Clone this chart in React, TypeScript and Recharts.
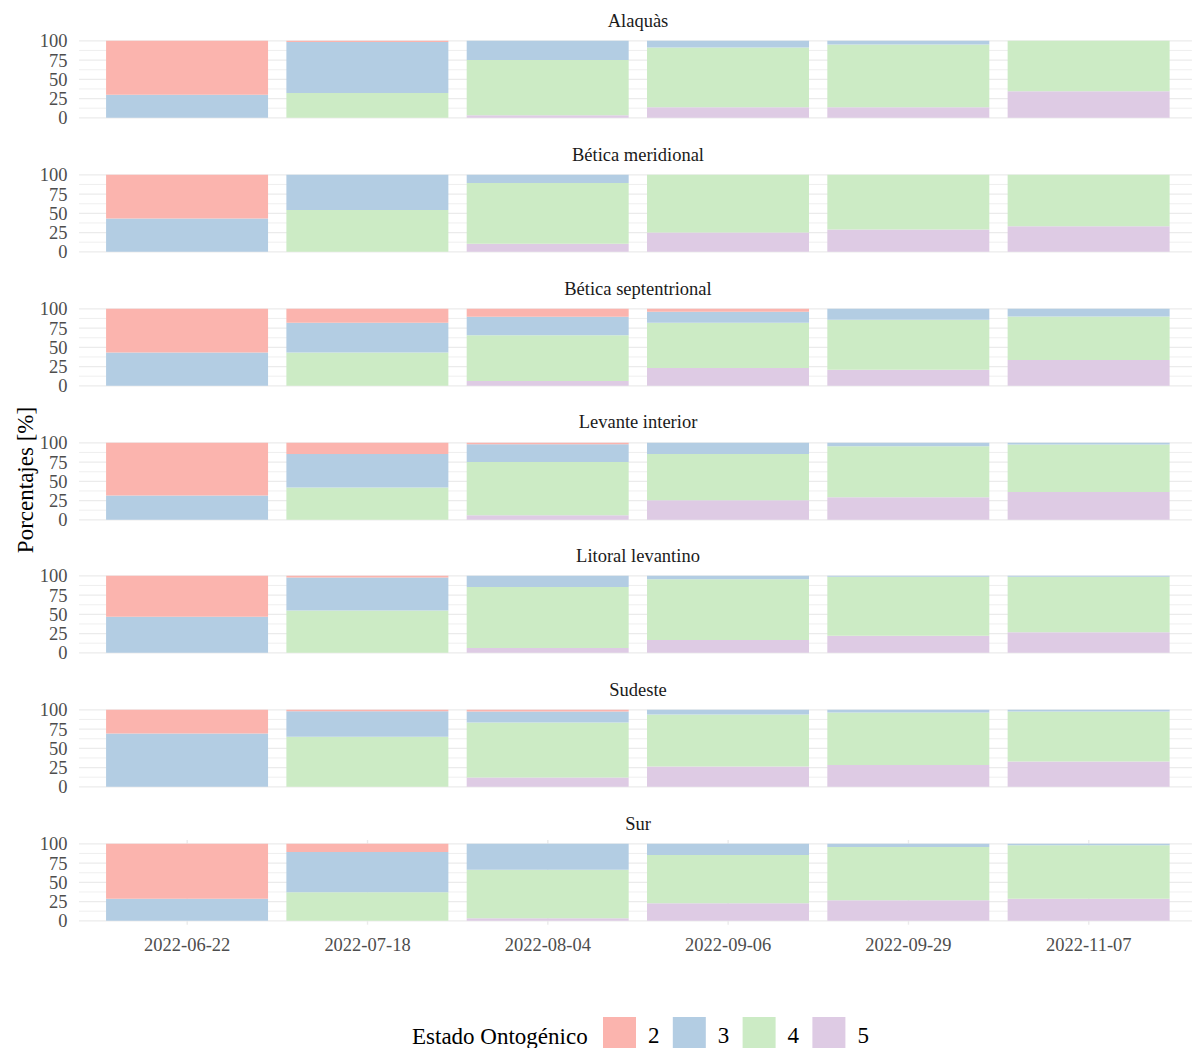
import { BarChart, Bar, XAxis, YAxis, CartesianGrid } from 'recharts';

const DATES = ['2022-06-22', '2022-07-18', '2022-08-04', '2022-09-06', '2022-09-29', '2022-11-07'];
const REGIONS = [
  'Alaquàs',
  'Bética meridional',
  'Bética septentrional',
  'Levante interior',
  'Litoral levantino',
  'Sudeste',
  'Sur',
];

// porcentaje por estado ontogénico, una fila por región, una columna por fecha
const E2 = [
  [70, 1.5, 0, 0, 0, 0],
  [56.6, 0, 0, 0, 0, 0],
  [56.7, 18, 10.3, 3.9, 0, 0],
  [68.4, 14.5, 1.8, 0, 0, 0],
  [53.2, 2.1, 0, 0, 0, 0],
  [30.6, 1.7, 2.2, 0, 0, 0],
  [71.4, 10.6, 0, 0, 0, 0],
];
const E3 = [
  [30, 66.2, 25, 8.6, 4.7, 0],
  [43.4, 45.6, 10.5, 0, 0, 0],
  [43.3, 38.6, 24, 14.2, 14.2, 9.9],
  [31.6, 43.4, 23.2, 14.5, 4.4, 2.2],
  [46.8, 42.9, 14.6, 4.3, 1.3, 1.3],
  [69.4, 33.2, 14.2, 6, 3.4, 2.2],
  [28.6, 52.4, 33.5, 14.5, 4, 1.8],
];
const E4 = [
  [0, 32.3, 71.5, 77.6, 81.5, 65.5],
  [0, 54.4, 79, 75, 71, 66.7],
  [0, 43.4, 59.3, 58.7, 64.8, 56.6],
  [0, 42.1, 68.9, 60.1, 66.2, 61.8],
  [0, 55, 79, 79, 76.4, 72.1],
  [0, 65.1, 71.5, 67.7, 68.2, 65],
  [0, 37, 63, 62.6, 69.1, 69.6],
];
const E5 = [
  [0, 0, 3.5, 13.8, 13.8, 34.5],
  [0, 0, 10.5, 25, 29, 33.3],
  [0, 0, 6.4, 23.2, 21, 33.5],
  [0, 0, 6.1, 25.4, 29.4, 36],
  [0, 0, 6.4, 16.7, 22.3, 26.6],
  [0, 0, 12.1, 26.3, 28.4, 32.8],
  [0, 0, 3.5, 22.9, 26.9, 28.6],
];

const Y_TICKS = [0, 25, 50, 75, 100];
const Y_MINOR = [12.5, 37.5, 62.5, 87.5];

const STAGES = [
  { key: 'e5', label: '5', color: '#DECBE4', values: E5 },
  { key: 'e4', label: '4', color: '#CCEBC5', values: E4 },
  { key: 'e3', label: '3', color: '#B3CDE3', values: E3 },
  { key: 'e2', label: '2', color: '#FBB4AE', values: E2 },
];
const LEGEND_ORDER = [...STAGES].reverse();

const FONT = 'Liberation Serif, serif';
const W = 1192;
const PLOT_H = 84.7;
const PANEL_STEP = 133.8;
const FIRST_TOP = 37.15;
const AXIS_H = 40;
const PAD = 12; // room so the top/bottom tick labels are not cut

const tickStyle = { fill: '#4D4D4D', fontSize: 18.5, fontFamily: FONT };

function Panel({ idx }: { idx: number }) {
  const last = idx === REGIONS.length - 1;
  const data = DATES.map((d, j) => {
    const row: Record<string, string | number> = { date: d };
    STAGES.forEach((s) => { row[s.key] = s.values[idx][j]; });
    return row;
  });
  return (
    <div style={{ position: 'absolute', left: 0, top: FIRST_TOP + idx * PANEL_STEP - PAD }}>
      <BarChart
        width={W}
        height={PLOT_H + PAD + (last ? AXIS_H : PAD)}
        data={data}
        margin={{ top: PAD, right: 0, bottom: last ? 0 : PAD, left: 0 }}
        barCategoryGap="5%"
      >
        <CartesianGrid stroke="#EBEBEB" strokeWidth={1.4} syncWithTicks
          horizontalValues={Y_TICKS} verticalValues={DATES} />
        <CartesianGrid stroke="#EBEBEB" strokeWidth={0.8} vertical={false} syncWithTicks
          horizontalValues={Y_MINOR} />
        <XAxis
          dataKey="date"
          height={last ? AXIS_H : 0}
          padding={{ left: 18, right: 13 }}
          axisLine={false}
          tickLine={false}
          tickSize={0}
          tickMargin={13}
          interval={0}
          tick={last ? tickStyle : false}
        />
        <YAxis
          type="number"
          domain={[-5, 105]}
          ticks={Y_TICKS}
          interval={0}
          allowDataOverflow
          width={79}
          axisLine={false}
          tickLine={false}
          tickSize={0}
          tickMargin={11.5}
          tick={tickStyle}
        />
        {STAGES.map((s) => (
          <Bar key={s.key} dataKey={s.key} stackId="a" fill={s.color} isAnimationActive={false} />
        ))}
      </BarChart>
    </div>
  );
}

export default function App() {
  return (
    <div style={{ position: 'absolute', left: 0, top: 0, width: W, height: 1048, background: '#fff', overflow: 'hidden', fontFamily: FONT }}>
      <style>{`.recharts-wrapper text { font-family: ${FONT} !important; }`}</style>
      {REGIONS.map((r, i) => <Panel key={r} idx={i} />)}
      <svg width={W} height={1048} style={{ position: 'absolute', left: 0, top: 0, pointerEvents: 'none' }}>
        {REGIONS.map((r, i) => (
          <text key={r} x={638} y={27 + i * PANEL_STEP} textAnchor="middle" fontSize={18.5} fill="#1A1A1A" fontFamily={FONT}>
            {r}
          </text>
        ))}
        <text x={25.5} y={480} transform="rotate(-90 25.5 480)" textAnchor="middle" dominantBaseline="central"
          fontSize={23} fill="#000" fontFamily={FONT}>
          Porcentajes [%]
        </text>
        <text x={412} y={1044} fontSize={23} fill="#000" fontFamily={FONT}>Estado Ontogénico</text>
        {LEGEND_ORDER.map((s, k) => (
          <g key={s.key}>
            <rect x={603 + k * 69.8} y={1017} width={33} height={33} fill={s.color} />
            <text x={648 + k * 69.8} y={1043} fontSize={23} fill="#000" fontFamily={FONT}>{s.label}</text>
          </g>
        ))}
      </svg>
    </div>
  );
}
